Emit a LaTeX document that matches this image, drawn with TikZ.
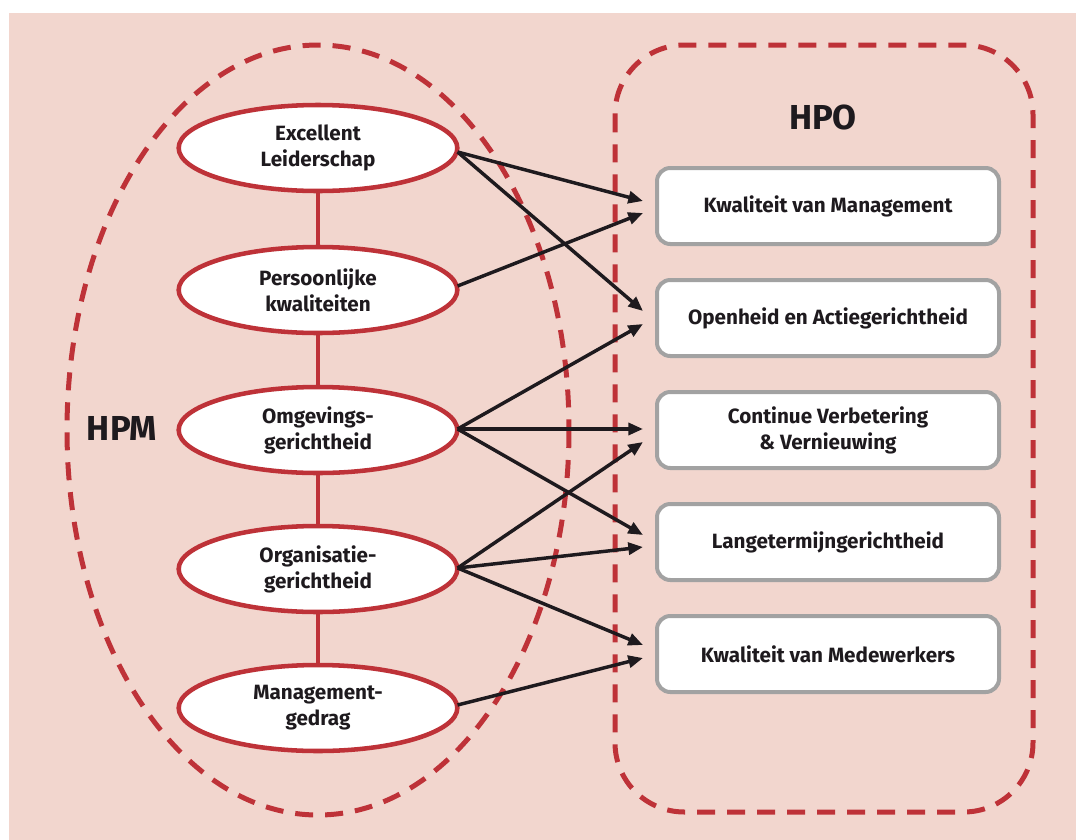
\documentclass[tikz,border=0pt]{standalone}
\usepackage{fontspec}
\setmainfont{Fira Sans}
\usetikzlibrary{shapes.geometric,arrows.meta,positioning}
\definecolor{hpmred}{HTML}{BE3238}
\definecolor{bgpink}{HTML}{F2D6CE}
\definecolor{boxgray}{HTML}{A2A2A2}
\definecolor{pijlzwart}{HTML}{1E1A1E}

\begin{document}
\begin{tikzpicture}[x=0.75pt,y=0.75pt,yscale=-1,xscale=1,
  hpmoval/.style={ellipse, draw=hpmred, line width=3.4pt, fill=white, minimum width=209pt, minimum height=64.5pt, inner sep=0pt, align=center, text=pijlzwart, font=\bfseries\fontsize{15.5}{19.5}\selectfont},
  hpobox/.style={rectangle, rounded corners=10pt, draw=boxgray, line width=3pt, fill=white, minimum width=256.5pt, minimum height=57pt, inner sep=0pt, align=center, text=pijlzwart, font=\bfseries\fontsize{15.5}{19.5}\selectfont},
  schakel/.style={draw=hpmred, line width=3pt},
  pijl/.style={draw=pijlzwart, line width=2.6pt, -{Triangle[length=11pt,width=9pt]}},
  grens/.style={draw=hpmred, line width=3.75pt, dash pattern=on 13.5pt off 9pt},
  kop/.style={text=pijlzwart, font=\bfseries\fontsize{26}{30}\selectfont}]
\useasboundingbox (0,0) rectangle (1076,840);

%Background
\fill[bgpink] (9,13) rectangle (1076,840);

%Dashed Ellipse HPM
\draw[grens] (318,430) ellipse [x radius=251, y radius=385];
%Dashed Rounded Rectangle HPO
\draw[grens, rounded corners=52pt] (615,45) rectangle (1033,812);

% Text Node
\node[kop] (hpm) at (122,428) {HPM};
% Text Node
\node[kop] (hpo) at (823,117) {HPO};

%Ellipses
\node[hpmoval] (e1) at (318,148) {Excellent\\Leiderschap};
\node[hpmoval] (e2) at (318,290) {Persoonlijke\\kwaliteiten};
\node[hpmoval] (e3) at (318,430) {Omgevings-\\gerichtheid};
\node[hpmoval] (e4) at (318,569) {Organisatie-\\gerichtheid};
\node[hpmoval] (e5) at (318,708) {Management-\\gedrag};

%Straight Lines
\foreach \a/\b in {e1/e2,e2/e3,e3/e4,e4/e5}
  \draw[schakel] (\a.south) -- (\b.north);

%Boxes
\node[hpobox] (b1) at (828,206) {Kwaliteit van Management};
\node[hpobox] (b2) at (828,318) {Openheid en Actiegerichtheid};
\node[hpobox] (b3) at (828,430) {Continue Verbetering\\\& Vernieuwing};
\node[hpobox] (b4) at (828,542) {Langetermijngerichtheid};
\node[hpobox] (b5) at (828,654) {Kwaliteit van Medewerkers};

%Arrows
\draw[pijl] ([shift={(-2,4)}]e1.east) -- ([shift={(-12,-5)}]b1.west);
\draw[pijl] ([shift={(-2,4)}]e1.east) -- ([shift={(-12,-7)}]b2.west);
\draw[pijl] ([shift={(-2,-4)}]e2.east) -- ([shift={(-12,7)}]b1.west);
\draw[pijl] ([shift={(-2,-1)}]e3.east) -- ([shift={(-12,6)}]b2.west);
\draw[pijl] ([shift={(-2,-1)}]e3.east) -- ([shift={(-12,-1)}]b3.west);
\draw[pijl] ([shift={(-2,-1)}]e3.east) -- ([shift={(-12,-7)}]b4.west);
\draw[pijl] ([shift={(-2,-1)}]e4.east) -- ([shift={(-12,12)}]b3.west);
\draw[pijl] ([shift={(-2,-1)}]e4.east) -- ([shift={(-12,5)}]b4.west);
\draw[pijl] ([shift={(-2,-1)}]e4.east) -- ([shift={(-12,-9)}]b5.west);
\draw[pijl] ([shift={(-2,-3)}]e5.east) -- ([shift={(-12,4)}]b5.west);

\end{tikzpicture}
\end{document}
